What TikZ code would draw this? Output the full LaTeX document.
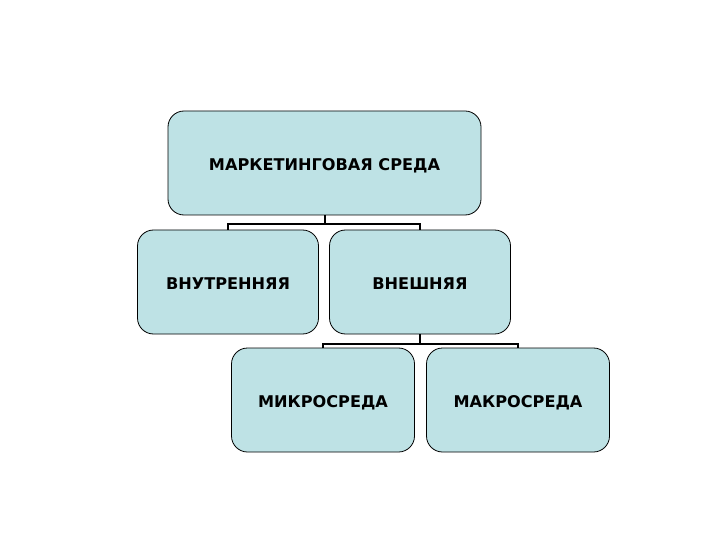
\documentclass[tikz,border=0pt]{standalone}
\usepackage{fontspec}
\setmainfont{DejaVu Sans}
\definecolor{boxfill}{RGB}{190,226,229}
\begin{document}
\begin{tikzpicture}[x=1bp,y=-1bp,
  orgbox/.style={draw=black,line width=0.8bp,fill=boxfill,rounded corners=16bp,
    font=\fontsize{16.2}{18}\selectfont\bfseries,text=black,inner sep=0pt,
    text height=15.5bp,text depth=0pt},
  link/.style={draw=black,line width=2bp}]
\useasboundingbox (0,0) rectangle (720,540);
\node[orgbox,minimum width=313bp,minimum height=104bp] (top) at (324.5,163) {МАРКЕТИНГОВАЯ СРЕДА};
\node[orgbox,minimum width=181bp,minimum height=104bp] (inner) at (228,282) {ВНУТРЕННЯЯ};
\node[orgbox,minimum width=181bp,minimum height=104bp] (outer) at (420,282) {ВНЕШНЯЯ};
\node[orgbox,minimum width=183bp,minimum height=104bp] (micro) at (323,400) {МИКРОСРЕДА};
\node[orgbox,minimum width=183bp,minimum height=104bp] (macro) at (518,400) {МАКРОСРЕДА};
\draw[link] (top.south) -- ++(0,9) -| (inner.north);
\draw[link] (top.south) -- ++(0,9) -| (outer.north);
\draw[link] (outer.south) -- ++(0,9.5) -| (micro.north);
\draw[link] (outer.south) -- ++(0,9.5) -| (macro.north);
\end{tikzpicture}
\end{document}
